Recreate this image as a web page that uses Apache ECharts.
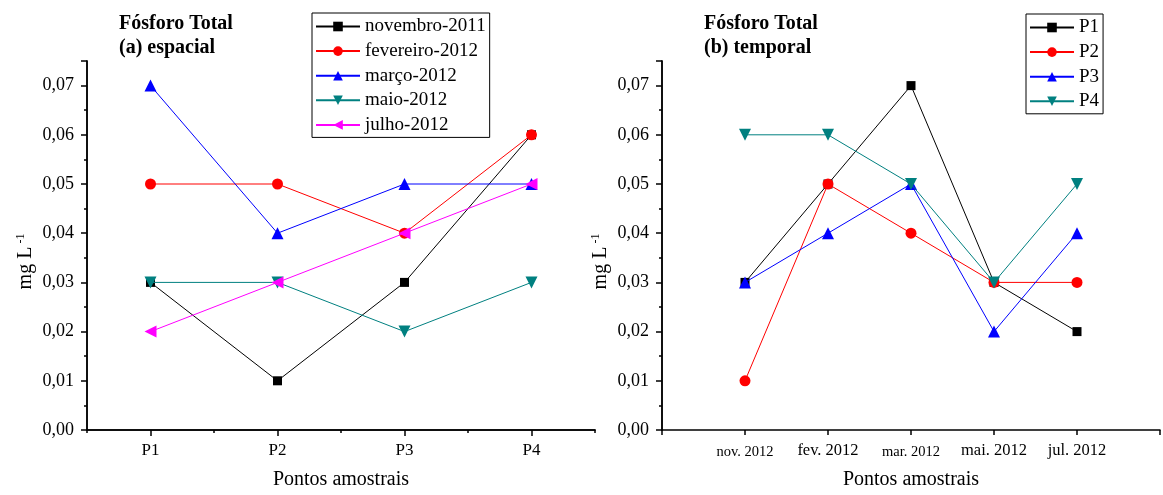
<!DOCTYPE html>
<html><head><meta charset="utf-8">
<script src="https://cdn.jsdelivr.net/npm/echarts@6/dist/echarts.min.js"></script>
<style>html,body{margin:0;padding:0;background:#fff}#c{width:1163px;height:495px}</style>
</head><body><div id="c"></div>
<script>
// ---- data ----
const pontos = ['P1', 'P2', 'P3', 'P4'];
const campanhas = ['novembro-2011', 'fevereiro-2012', 'março-2012', 'maio-2012', 'julho-2012'];
const nov2011 = [0.03, 0.01, 0.03, 0.06];
const fev2012 = [0.05, 0.05, 0.04, 0.06];
const mar2012 = [0.07, 0.04, 0.05, 0.05];
const mai2012 = [0.03, 0.03, 0.02, 0.03];
const jul2012 = [0.02, 0.03, 0.04, 0.05];

const meses = ['nov. 2012', 'fev. 2012', 'mar. 2012', 'mai. 2012', 'jul. 2012'];
const p1 = [0.03, 0.05, 0.07, 0.03, 0.02];
const p2 = [0.01, 0.05, 0.04, 0.03, 0.03];
const p3 = [0.03, 0.04, 0.05, 0.02, 0.04];
const p4 = [0.06, 0.06, 0.05, 0.03, 0.05];
const yTicks = [0, 0.01, 0.02, 0.03, 0.04, 0.05, 0.06, 0.07];

// ---- styling ----
const FF = '"Liberation Serif", "Times New Roman", serif';
const colors = ['#000000', '#ff0000', '#0000ff', '#008080', '#ff00ff'];
const syms = [
  {symbol: 'rect', symbolSize: 9, symbolRotate: 0},
  {symbol: 'circle', symbolSize: 11, symbolRotate: 0},
  {symbol: 'triangle', symbolSize: 12, symbolRotate: 0},
  {symbol: 'triangle', symbolSize: 12, symbolRotate: 180},
  {symbol: 'triangle', symbolSize: 12, symbolRotate: 90}
];
const axisLineStyle = {color: '#000', width: 1.5};

function yFmt(v) {
  for (const t of yTicks) if (Math.abs(v - t) < 1e-9) return t.toFixed(2).replace('.', ',');
  return '';
}
function yAxes(gridIndex) {
  return [
    {type: 'value', gridIndex, position: 'left', min: 0, max: 0.075, interval: 0.01,
     name: '{a|mg L}{s|-1}', nameLocation: 'middle', nameRotate: 90, nameGap: 50,
     nameTextStyle: {padding: [0, 32, 0, 0],
                     rich: {a: {fontFamily: FF, fontSize: 20, color: '#000'},
                            s: {fontFamily: FF, fontSize: 12, color: '#000', padding: [0, 0, 10, 3]}}},
     axisLine: {show: true, lineStyle: axisLineStyle},
     axisTick: {show: true, length: 6, lineStyle: axisLineStyle},
     axisLabel: {formatter: yFmt, fontFamily: FF, fontSize: 18, color: '#000', margin: 13},
     splitLine: {show: false}},
    {type: 'value', gridIndex, position: 'left', min: 0, max: 0.075, interval: 0.005,
     axisLine: {show: true, lineStyle: axisLineStyle},
     axisTick: {show: true, length: 3, lineStyle: axisLineStyle},
     axisLabel: {show: false}, splitLine: {show: false}}
  ];
}
function legend(names, left, top) {
  return {data: names, orient: 'vertical', left, top, borderColor: '#000', borderWidth: 1,
          borderRadius: 0, padding: [4, 4, 3, 3], itemWidth: 44, itemHeight: 12, itemGap: 5.6,
          textStyle: {fontFamily: FF, fontSize: 19, lineHeight: 19, color: '#000'}};
}

const leftSeriesData = [nov2011, fev2012, mar2012, mai2012, jul2012];
const rightSeriesData = [p1, p2, p3, p4];

const series = [];
leftSeriesData.forEach((d, i) => series.push(Object.assign({
  name: campanhas[i], type: 'line', xAxisIndex: 0, yAxisIndex: 0, data: d,
  lineStyle: {color: colors[i], width: 1}, itemStyle: {color: colors[i]}, z: 2 + i
}, syms[i])));
rightSeriesData.forEach((d, i) => series.push(Object.assign({
  name: pontos[i], type: 'line', xAxisIndex: 2, yAxisIndex: 2,
  data: d.map((v, j) => [j + 1, v]),
  lineStyle: {color: colors[i], width: 1}, itemStyle: {color: colors[i]}, z: 2 + i
}, syms[i])));

const titleStyle = {fontFamily: FF, fontSize: 20, fontWeight: 'bold', color: '#000', lineHeight: 24};
const option = {
  animation: false,
  backgroundColor: '#fff',
  title: [
    {text: 'Fósforo Total\n(a) espacial', left: 114, top: 7, textStyle: titleStyle},
    {text: 'Fósforo Total\n(b) temporal', left: 699, top: 7, textStyle: titleStyle}
  ],
  legend: [legend(campanhas, 312, 13), legend(pontos, 1026, 14)],
  grid: [
    {left: 87, top: 61, width: 508, height: 376},
    {left: 662, top: 61, width: 510, height: 376}
  ],
  xAxis: [
    {type: 'category', gridIndex: 0, position: 'bottom', data: pontos, boundaryGap: true,
     name: 'Pontos amostrais', nameLocation: 'middle', nameGap: 40,
     nameTextStyle: {fontFamily: FF, fontSize: 20, color: '#000'},
     axisLine: {show: true, lineStyle: axisLineStyle},
     axisTick: {show: true, alignWithLabel: true, length: 6, lineStyle: axisLineStyle},
     axisLabel: {fontFamily: FF, fontSize: 17, color: '#000', margin: 12}},
    {type: 'category', gridIndex: 0, position: 'bottom', data: pontos, boundaryGap: true,
     axisLine: {show: true, lineStyle: axisLineStyle},
     axisTick: {show: true, length: 3, lineStyle: axisLineStyle},
     axisLabel: {show: false}},
    {type: 'value', gridIndex: 1, position: 'bottom', min: 0, max: 6, interval: 1,
     name: 'Pontos amostrais', nameLocation: 'middle', nameGap: 40,
     nameTextStyle: {fontFamily: FF, fontSize: 20, color: '#000'},
     axisLine: {show: true, lineStyle: axisLineStyle},
     axisTick: {show: true, length: 5, lineStyle: axisLineStyle},
     splitLine: {show: false},
     axisLabel: {margin: 12, color: '#000',
       formatter: v => { const m = meses[v - 1]; if (!m) return ''; return (v === 1 || v === 3) ? '{s|' + m + '}' : '{b|' + m + '}'; },
       rich: {s: {fontFamily: FF, fontSize: 14.5, color: '#000', padding: [3, 0, 0, 0]},
              b: {fontFamily: FF, fontSize: 16.5, color: '#000'}}}}
  ],
  yAxis: [...yAxes(0), ...yAxes(1)],
  series
};
echarts.init(document.getElementById('c'), null, {renderer: 'canvas'}).setOption(option);
</script></body></html>
